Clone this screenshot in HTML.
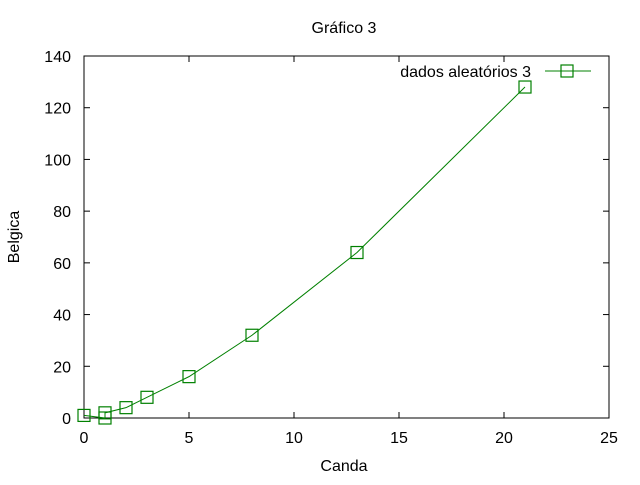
<!DOCTYPE html>
<html><head><meta charset="utf-8"><style>
body{margin:0;background:#fff;font-family:"Liberation Sans",sans-serif;}
svg text{font-family:"Liberation Sans",sans-serif;font-size:16px;fill:#000;}
</style></head><body>
<svg id="chart" width="640" height="480" xmlns="http://www.w3.org/2000/svg">
<rect width="640" height="480" fill="#fff"/>
<text x="344" y="33" text-anchor="middle">Gráfico 3</text>
<text x="344" y="471" text-anchor="middle">Canda</text>
<text transform="translate(19,237) rotate(-90)" text-anchor="middle">Belgica</text>
<g id="axes"></g>
<g id="marks"></g>
<text x="531" y="77" text-anchor="end">dados aleatórios 3</text>
<line x1="545" y1="71" x2="591" y2="71" stroke="#008000" stroke-width="1"/>
<rect x="561" y="65" width="12" height="12" fill="none" stroke="#008000" stroke-width="1.2"/>
</svg>
<script>
const xValues=[0,1,1,2,3,5,8,13,21];
const yValues=[1,0,2,4,8,16,32,64,128];
const xTicks=[0,5,10,15,20,25];
const yTicks=[0,20,40,60,80,100,120,140];
const L=84,R=609,T=56,B=418;
const sx=v=>L+(v-0)/25*(R-L);
const sy=v=>B-(v-0)/140*(B-T);
const NS="http://www.w3.org/2000/svg";
const axes=document.getElementById('axes'),marks=document.getElementById('marks');
function mk(tag,attrs,parent){const e=document.createElementNS(NS,tag);for(const k in attrs)e.setAttribute(k,attrs[k]);parent.appendChild(e);return e;}
const frame=mk('rect',{x:L,y:T,width:R-L,height:B-T,fill:'none',stroke:'#000','stroke-width':1},axes);


xTicks.forEach(t=>{const x=sx(t);
const a=mk('line',{x1:x,y1:B,x2:x,y2:B-6,stroke:'#000'},axes);


const b=mk('line',{x1:x,y1:T,x2:x,y2:T+6,stroke:'#000'},axes);


const tx=mk('text',{x:x,y:B+25,'text-anchor':'middle'},axes);tx.textContent=t;

});
yTicks.forEach(t=>{const y=sy(t);
const a=mk('line',{x1:L,y1:y,x2:L+6,y2:y,stroke:'#000'},axes);


const b=mk('line',{x1:R,y1:y,x2:R-6,y2:y,stroke:'#000'},axes);


const tx=mk('text',{x:L-13,y:y+6,'text-anchor':'end'},axes);tx.textContent=t;

});
const pts=xValues.map((x,i)=>sx(x)+','+sy(yValues[i])).join(' ');
const pl=mk('polyline',{points:pts,fill:'none',stroke:'#008000','stroke-width':1},marks);


xValues.forEach((x,i)=>{
const r=mk('rect',{x:sx(x)-6,y:sy(yValues[i])-6,width:12,height:12,fill:'none',stroke:'#008000','stroke-width':1.2},marks);

});
</script>
</body></html>
